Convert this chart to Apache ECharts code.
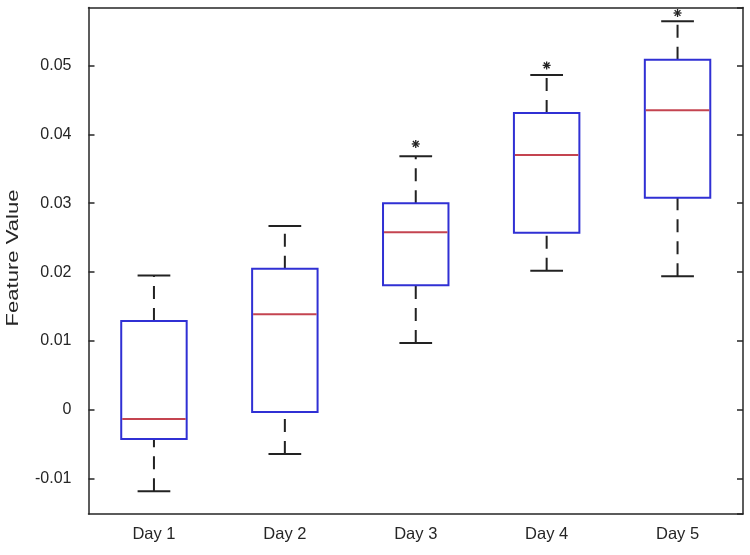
<!DOCTYPE html>
<html>
<head>
<meta charset="utf-8">
<script src="https://cdn.jsdelivr.net/npm/echarts@6/dist/echarts.min.js"></script>
<style>
html,body{margin:0;padding:0;background:#fff;}
#chart{width:750px;height:555px;}
</style>
</head>
<body>
<div id="chart"></div>
<script>
// ---- data ----
var categories = ['Day 1', 'Day 2', 'Day 3', 'Day 4', 'Day 5'];
var lowerWhisker = [-0.0118, -0.0064, 0.0097, 0.0202, 0.0194];
var q1 =           [-0.0042, -0.0003, 0.0181, 0.0257, 0.0308];
var median =       [-0.0013, 0.0139, 0.0258, 0.0370, 0.0435];
var q3 =           [0.0129, 0.0205, 0.0300, 0.0431, 0.0508];
var upperWhisker = [0.0195, 0.0267, 0.0368, 0.0486, 0.0564];
var outlierDay =   [2, 3, 4];
var outlierValue = [0.0386, 0.0500, 0.0576];
var yMin = -0.0151, yMax = 0.0584;
var yTickLabels = ['-0.01', '0', '0.01', '0.02', '0.03', '0.04', '0.05'];
var yAxisTitle = 'Feature Value';

var boxData = categories.map(function (c, i) {
  return [i, lowerWhisker[i], q1[i], median[i], q3[i], upperWhisker[i]];
});
var outlierData = outlierDay.map(function (d, i) { return [d, outlierValue[i]]; });

var FONT = '"Liberation Sans", Arial, sans-serif';
var AX = '#262626';

function fmt(v) {
  var r = Math.round(v * 100) / 100;
  var s = Math.abs(r) < 1e-9 ? '0' : r.toFixed(2);
  return yTickLabels.indexOf(s) >= 0 ? s : '';
}

function renderBox(params, api) {
  var x = api.value(0);
  var pLow = api.coord([x, api.value(1)]);
  var pQ1 = api.coord([x, api.value(2)]);
  var pMed = api.coord([x, api.value(3)]);
  var pQ3 = api.coord([x, api.value(4)]);
  var pHigh = api.coord([x, api.value(5)]);
  var band = api.size([1, 0])[0];
  var bw = band * 0.5, cw = band * 0.25;
  var cx = pMed[0];
  var dash = { stroke: '#222', lineWidth: 2, lineDash: [13, 9] };
  var solid = { stroke: '#222', lineWidth: 2 };
  return {
    type: 'group',
    children: [
      { type: 'line', shape: { x1: cx, y1: pQ3[1], x2: cx, y2: pHigh[1] }, style: dash },
      { type: 'line', shape: { x1: cx, y1: pLow[1], x2: cx, y2: pQ1[1] }, style: dash },
      { type: 'line', shape: { x1: cx - cw / 2, y1: pHigh[1], x2: cx + cw / 2, y2: pHigh[1] }, style: solid },
      { type: 'line', shape: { x1: cx - cw / 2, y1: pLow[1], x2: cx + cw / 2, y2: pLow[1] }, style: solid },
      { type: 'rect', shape: { x: cx - bw / 2, y: pQ3[1], width: bw, height: pQ1[1] - pQ3[1] },
        style: { fill: 'none', stroke: '#3030d4', lineWidth: 2 } },
      { type: 'line', shape: { x1: cx - bw / 2 + 1, y1: pMed[1], x2: cx + bw / 2 - 1, y2: pMed[1] },
        style: { stroke: '#c44450', lineWidth: 2 } }
    ]
  };
}

function renderStar(params, api) {
  var p = api.coord([api.value(0), api.value(1)]);
  var r = 4, d = r * 0.72;
  var st = { stroke: '#222', lineWidth: 1.3 };
  return {
    type: 'group',
    children: [
      { type: 'line', shape: { x1: p[0] - r, y1: p[1], x2: p[0] + r, y2: p[1] }, style: st },
      { type: 'line', shape: { x1: p[0], y1: p[1] - r, x2: p[0], y2: p[1] + r }, style: st },
      { type: 'line', shape: { x1: p[0] - d, y1: p[1] - d, x2: p[0] + d, y2: p[1] + d }, style: st },
      { type: 'line', shape: { x1: p[0] - d, y1: p[1] + d, x2: p[0] + d, y2: p[1] - d }, style: st }
    ]
  };
}

var chart = echarts.init(document.getElementById('chart'), null, { renderer: 'canvas' });
chart.setOption({
  animation: false,
  backgroundColor: '#fff',
  grid: { left: 88.5, right: 7, top: 7.5, bottom: 41, containLabel: false, outerBoundsMode: 'none' },
  graphic: [{
    type: 'text', x: 13, y: 258, rotation: Math.PI / 2, scaleX: 1.3, silent: true,
    style: { text: yAxisTitle, fill: AX, font: '17px "Liberation Sans", Arial, sans-serif',
      align: 'center', verticalAlign: 'middle' }
  }],
  xAxis: [{
    type: 'category', data: categories, boundaryGap: true, position: 'bottom',
    axisLine: { onZero: false, lineStyle: { color: AX, width: 1.5 } },
    axisTick: { inside: true, alignWithLabel: true, length: 6, lineStyle: { color: AX, width: 1.5 } },
    axisLabel: { color: AX, fontFamily: FONT, fontSize: 16.5, margin: 12 },
    splitLine: { show: false }
  }, {
    type: 'category', data: categories, position: 'top',
    axisLine: { onZero: false, lineStyle: { color: AX, width: 1.5 } },
    axisTick: { show: false }, axisLabel: { show: false }, splitLine: { show: false }
  }],
  yAxis: [{
    type: 'value', min: yMin, max: yMax, splitNumber: 7, minInterval: 0.01, maxInterval: 0.01,
    axisLine: { show: true, onZero: false, lineStyle: { color: AX, width: 1.5 } },
    axisTick: { show: true, inside: true, length: 6, lineStyle: { color: AX, width: 1.5 } },
    axisLabel: { color: AX, fontFamily: FONT, fontSize: 16, margin: 17, formatter: fmt,
      showMinLabel: false, showMaxLabel: false },
    splitLine: { show: false }
  }, {
    type: 'value', min: yMin, max: yMax, splitNumber: 7, minInterval: 0.01, maxInterval: 0.01,
    position: 'right',
    axisLine: { show: true, onZero: false, lineStyle: { color: AX, width: 1.5 } },
    axisTick: { show: true, inside: true, length: 6, lineStyle: { color: AX, width: 1.5 } },
    axisLabel: { show: false }, splitLine: { show: false }
  }],
  series: [{
    type: 'custom', xAxisIndex: 0, yAxisIndex: 0,
    renderItem: renderBox, data: boxData,
    encode: { x: 0, y: [1, 2, 3, 4, 5] }
  }, {
    type: 'custom', xAxisIndex: 0, yAxisIndex: 0,
    renderItem: renderStar, data: outlierData,
    encode: { x: 0, y: 1 }
  }]
});
</script>
</body>
</html>
